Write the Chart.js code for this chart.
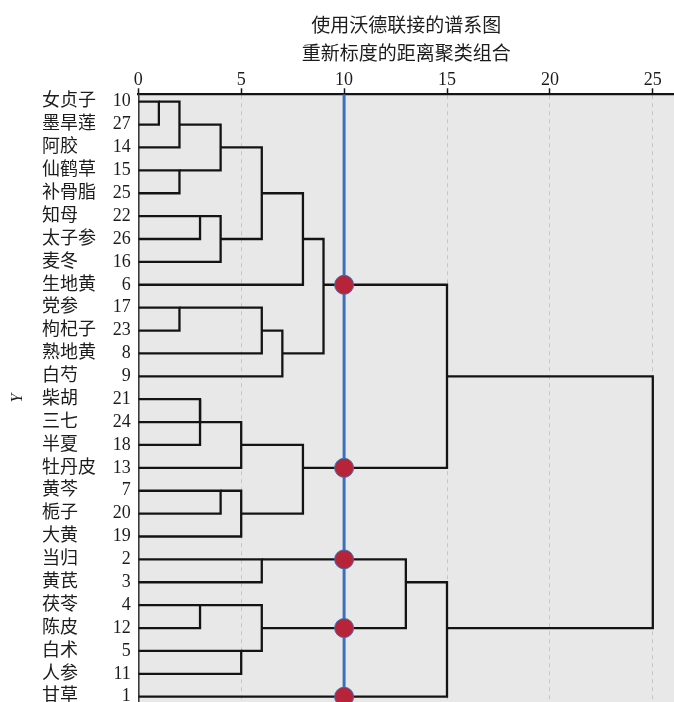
<!DOCTYPE html>
<html>
<head>
<meta charset="utf-8">
<script src="https://cdn.jsdelivr.net/npm/chart.js@4/dist/chart.umd.min.js"></script>
<style>
  html, body { margin: 0; padding: 0; background: #ffffff; }
  canvas { display: block; }
</style>
</head>
<body>
<canvas id="dendro" width="674" height="702"></canvas>
<script>
// Ward-linkage dendrogram of 27 herbs, rescaled distance 0–25.
const titleLines = ['使用沃德联接的谱系图', '重新标度的距离聚类组合'];
const axisTitle = 'Y';

// Leaves, top to bottom
const leafNames = ['女贞子', '墨旱莲', '阿胶', '仙鹤草', '补骨脂', '知母', '太子参', '麦冬', '生地黄',
  '党参', '枸杞子', '熟地黄', '白芍', '柴胡', '三七', '半夏', '牡丹皮', '黄芩', '栀子', '大黄',
  '当归', '黄芪', '茯苓', '陈皮', '白术', '人参', '甘草'];
const leafIds = [10, 27, 14, 15, 25, 22, 26, 16, 6, 17, 23, 8, 9, 21, 24, 18, 13, 7, 20, 19, 2, 3, 4, 12, 5, 11, 1];

// Distance axis tick labels
const distanceTicks = [0, 5, 10, 15, 20, 25];

// Agglomeration steps: indices 0–26 are leaves, step k creates cluster 27 + k
const mergeLeft   = [0, 27, 3, 28, 5, 31, 30, 33, 9, 35, 36, 34, 13, 39, 40, 17, 42, 41, 38, 20, 22, 24, 47, 46, 50, 45];
const mergeRight  = [1, 2, 4, 29, 6, 7, 32, 8, 10, 11, 12, 37, 14, 15, 16, 18, 19, 43, 44, 21, 23, 25, 48, 49, 26, 51];
const mergeHeight = [1, 2, 2, 4, 3, 4, 6, 8, 2, 6, 7, 9, 3, 3, 5, 4, 5, 8, 15, 6, 3, 5, 6, 13, 15, 25];

// Cut level marking the clusters
const cutDistance = 10;

// ---- layout helpers ----
const rowMin = -0.323, rowMax = 26.232;
const distMax = 26.03;
const serif = "'Liberation Serif', 'Noto Sans CJK SC', serif";
const textColor = '#1c1c1c';

// Fix an axis box size and drop the label-overflow padding Chart.js reserves
const fixBox = (w, h) => s => {
  if (w !== null) s.width = w;
  if (h !== null) s.height = h;
  s.paddingTop = s.paddingBottom = s.paddingLeft = s.paddingRight = 0;
};

// Row and height of every node (leaves first, then merged clusters)
const nodeRow = leafNames.map((_, i) => i);
const nodeHeight = leafNames.map(() => 0);
mergeHeight.forEach((h, k) => {
  nodeRow.push(Math.floor((nodeRow[mergeLeft[k]] + nodeRow[mergeRight[k]]) / 2));
  nodeHeight.push(h);
});

// One bracket per merge: left child → out to merge height → across → right child
const bracketSets = mergeHeight.map((h, k) => {
  const a = mergeLeft[k], b = mergeRight[k];
  return {
    type: 'scatter',
    showLine: true,
    data: [
      {x: nodeHeight[a], y: nodeRow[a]},
      {x: h, y: nodeRow[a]},
      {x: h, y: nodeRow[b]},
      {x: nodeHeight[b], y: nodeRow[b]}
    ],
    borderColor: '#141414',
    borderWidth: 2.3,
    borderJoinStyle: 'miter',
    pointRadius: 0,
    pointHoverRadius: 0,
    order: 3
  };
});

// Clusters cut by the threshold line
const cutPoints = [];
mergeHeight.forEach((h, k) => {
  [mergeLeft[k], mergeRight[k]].forEach(c => {
    if (nodeHeight[c] < cutDistance && h >= cutDistance) cutPoints.push({x: cutDistance, y: nodeRow[c]});
  });
});

const plotBackground = {
  id: 'plotBackground',
  beforeDraw(chart) {
    const {ctx, chartArea: a} = chart;
    ctx.save();
    ctx.fillStyle = '#e8e8e8';
    ctx.fillRect(a.left, a.top, a.right - a.left, a.bottom - a.top);
    ctx.restore();
  }
};

new Chart(document.getElementById('dendro'), {
  type: 'scatter',
  data: {
    datasets: [
      ...bracketSets,
      {
        type: 'scatter',
        showLine: true,
        data: [{x: cutDistance, y: rowMin}, {x: cutDistance, y: rowMax}],
        borderColor: '#3a71be',
        borderWidth: 3,
        pointRadius: 0,
        pointHoverRadius: 0,
        order: 2
      },
      {
        type: 'scatter',
        data: cutPoints,
        pointRadius: 9.5,
        pointHoverRadius: 9.5,
        pointBackgroundColor: '#b72439',
        pointBorderColor: '#3d6cb3',
        pointBorderWidth: 1,
        order: 1
      }
    ]
  },
  options: {
    responsive: false,
    animation: false,
    devicePixelRatio: 1,
    layout: { padding: 0, autoPadding: false },
    plugins: {
      legend: { display: false },
      tooltip: { enabled: false },
      title: {
        display: true,
        text: titleLines,
        fullSize: false,
        color: textColor,
        font: { family: serif, size: 19, weight: 'normal', lineHeight: 1.4737 },
        padding: { top: 13, bottom: 0 }
      }
    },
    scales: {
      x: {
        type: 'linear',
        position: 'top',
        min: 0,
        max: distMax,
        afterBuildTicks: s => { s.ticks = distanceTicks.map(v => ({value: v})); },
        afterFit: fixBox(null, 25.3),
        ticks: {
          color: textColor,
          font: { family: serif, size: 18 },
          padding: -3,
          maxRotation: 0,
          autoSkip: false
        },
        grid: {
          color: c => (c.tick && c.tick.value === 0) ? 'rgba(0,0,0,0)' : '#c6c6c6',
          lineWidth: 1,
          drawTicks: true,
          tickLength: 6,
          tickColor: '#141414',
          tickWidth: 1.5
        },
        border: { display: true, color: '#141414', width: 2.2, dash: [4, 4] }
      },
      y: {
        type: 'linear',
        position: 'left',
        weight: 0,
        reverse: true,
        min: rowMin,
        max: rowMax,
        afterBuildTicks: s => { s.ticks = leafIds.map((_, i) => ({value: i})); },
        afterFit: fixBox(26.3, null),
        ticks: {
          color: textColor,
          font: { family: serif, size: 18 },
          padding: 7.5,
          autoSkip: false,
          callback: v => leafIds[v]
        },
        grid: { display: false, drawTicks: false },
        border: { display: true, color: '#3a3a3a', width: 1.6 }
      },
      yName: {
        type: 'linear',
        position: 'left',
        weight: 1,
        reverse: true,
        min: rowMin,
        max: rowMax,
        afterBuildTicks: s => { s.ticks = leafNames.map((_, i) => ({value: i})); },
        afterFit: fixBox(70, null),
        ticks: {
          color: textColor,
          font: { family: serif, size: 18 },
          crossAlign: 'far',
          padding: 0,
          autoSkip: false,
          callback: v => leafNames[v]
        },
        grid: { display: false, drawTicks: false },
        border: { display: false }
      },
      yTitle: {
        type: 'linear',
        position: 'left',
        weight: 2,
        min: 0,
        max: 1,
        afterFit: fixBox(42, null),
        ticks: { display: false },
        grid: { display: false, drawTicks: false },
        border: { display: false },
        title: {
          display: true,
          text: axisTitle,
          color: textColor,
          font: { family: serif, size: 16, style: 'italic' },
          padding: { top: 8, bottom: 0 }
        }
      }
    }
  },
  plugins: [plotBackground]
});
</script>
</body>
</html>
